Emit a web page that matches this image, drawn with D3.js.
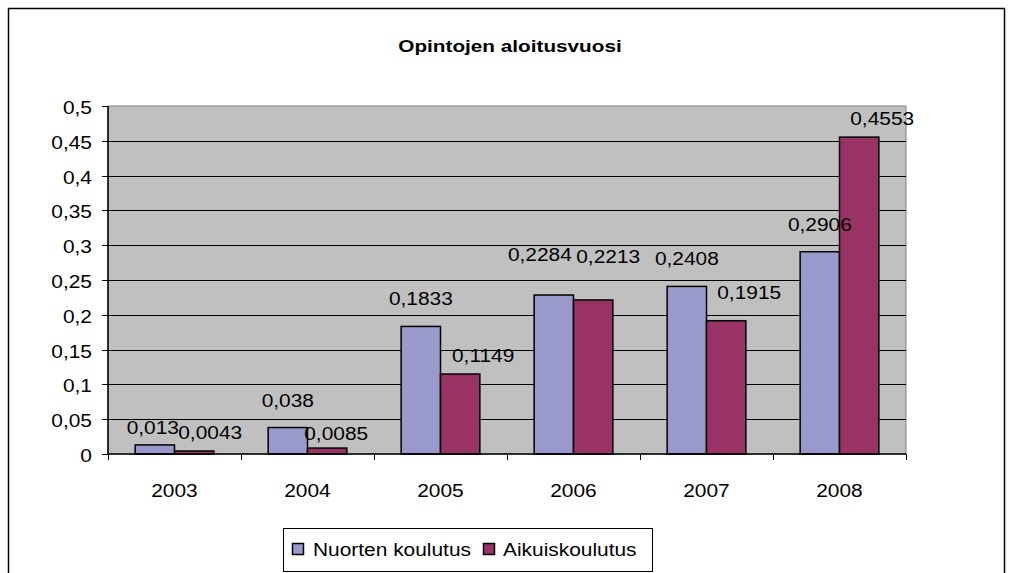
<!DOCTYPE html>
<html>
<head>
<meta charset="utf-8">
<script src="https://cdn.jsdelivr.net/npm/d3@7"></script>
<style>
  html, body { margin: 0; padding: 0; background: #fff; }
  svg { display: block; font-family: "Liberation Sans", Arial, sans-serif; }
</style>
</head>
<body>
<svg id="chart" width="1009" height="573"></svg>
<script>
// chart data
const years = ['2003', '2004', '2005', '2006', '2007', '2008'];
const seriesNames = ['Nuorten koulutus', 'Aikuiskoulutus'];
const nuorten = [0.013, 0.038, 0.1833, 0.2284, 0.2408, 0.2906];
const aikuis = [0.0043, 0.0085, 0.1149, 0.2213, 0.1915, 0.4553];
const yTicks = [0, 0.05, 0.1, 0.15, 0.2, 0.25, 0.3, 0.35, 0.4, 0.45, 0.5];
const colors = ['#9999CC', '#993366'];

// label nudges (dx, dy) to mimic the original label placement
const labelNudge = [
  [[-2, 10], [0, 0], [0, 0], [-14, -13], [0, 0], [0, 0]],
  [[16, 9], [9, 13], [23, 9], [15, -16], [23, -1], [23, 9]]
];

const svg = d3.select('#chart');
const plot = { left: 108, top: 106, right: 906, bottom: 454 };
const SX = 1.1; // text is stretched horizontally in the original

function stretchedText(g, x, y, str, opts) {
  opts = opts || {};
  return g.append('text')
    .attr('transform', `translate(${x},${y}) scale(${opts.sx || SX},1)`)
    .attr('text-anchor', opts.anchor || 'middle')
    .attr('font-size', opts.size || 19)
    .attr('font-weight', opts.weight || 'normal')
    .attr('fill', '#000')
    .text(str);
}
const fmt = v => String(v).replace('.', ',');

// outer frame
svg.append('rect')
  .attr('x', 8.5).attr('y', 8.5)
  .attr('width', 996).attr('height', 600)
  .attr('fill', 'none').attr('stroke', '#000').attr('stroke-width', 1.5);

// title
stretchedText(svg, 510, 52, 'Opintojen aloitusvuosi', { size: 17, weight: 'bold', sx: 1.22 });

const x0 = d3.scaleBand().domain(years).range([plot.left, plot.right]).padding(0);
const x1 = d3.scaleBand().domain([0, 1]).range([0, x0.bandwidth()]).paddingInner(0).paddingOuter(0.69);
const y = d3.scaleLinear().domain([0, 0.5]).range([plot.bottom, plot.top]);

// plot area background
svg.append('rect')
  .attr('x', plot.left).attr('y', plot.top)
  .attr('width', plot.right - plot.left).attr('height', plot.bottom - plot.top)
  .attr('fill', '#C0C0C0').attr('stroke', '#808080').attr('stroke-width', 1);

// gridlines
svg.append('g').selectAll('line')
  .data(yTicks.filter(t => t > 0 && t < 0.5))
  .join('line')
  .attr('x1', plot.left).attr('x2', plot.right)
  .attr('y1', d => Math.round(y(d)) + 0.5).attr('y2', d => Math.round(y(d)) + 0.5)
  .attr('stroke', '#000').attr('stroke-width', 1);

// bars
const series = [nuorten, aikuis];
const barG = svg.append('g');
series.forEach((vals, si) => {
  barG.selectAll('rect.s' + si)
    .data(vals)
    .join('rect')
    .attr('class', 's' + si)
    .attr('x', (d, i) => x0(years[i]) + x1(si))
    .attr('y', d => y(d))
    .attr('width', x1.bandwidth())
    .attr('height', d => y(0) - y(d))
    .attr('fill', colors[si])
    .attr('stroke', '#000').attr('stroke-width', 1.5);
});

// data labels
const labelG = svg.append('g');
series.forEach((vals, si) => {
  vals.forEach((v, i) => {
    const cx = x0(years[i]) + x1(si) + x1.bandwidth() / 2 + labelNudge[si][i][0];
    const by = y(v) - 21 + labelNudge[si][i][1];
    stretchedText(labelG, cx, by, fmt(v));
  });
});

// y axis
const yAxis = svg.append('g');
yAxis.append('line')
  .attr('x1', plot.left).attr('x2', plot.left)
  .attr('y1', plot.top).attr('y2', plot.bottom)
  .attr('stroke', '#000').attr('stroke-width', 1.5);
yTicks.forEach(t => {
  const ty = Math.round(y(t)) + 0.5;
  yAxis.append('line')
    .attr('x1', plot.left - 6).attr('x2', plot.left)
    .attr('y1', ty).attr('y2', ty)
    .attr('stroke', '#000');
  stretchedText(yAxis, 92, ty + 7, fmt(t), { anchor: 'end' });
});

// x axis
const xAxis = svg.append('g');
xAxis.append('line')
  .attr('x1', plot.left).attr('x2', plot.right)
  .attr('y1', plot.bottom).attr('y2', plot.bottom)
  .attr('stroke', '#000').attr('stroke-width', 1.5);
years.concat(['end']).forEach((yr, i) => {
  const tx = Math.round(plot.left + i * x0.step()) + 0.5;
  xAxis.append('line')
    .attr('x1', tx).attr('x2', tx)
    .attr('y1', plot.bottom).attr('y2', plot.bottom + 6)
    .attr('stroke', '#000');
});
years.forEach(yr => {
  stretchedText(xAxis, x0(yr) + x0.bandwidth() / 2, 497, yr);
});

// legend
const legend = svg.append('g');
legend.append('rect')
  .attr('x', 283.5).attr('y', 528.5).attr('width', 369).attr('height', 43)
  .attr('fill', '#fff').attr('stroke', '#000').attr('stroke-width', 1);
const legendItems = [{ sx: 292, tx: 313 }, { sx: 483, tx: 503 }];
seriesNames.forEach((name, si) => {
  legend.append('rect')
    .attr('x', legendItems[si].sx + 0.5).attr('y', 543.5)
    .attr('width', 11).attr('height', 11)
    .attr('fill', colors[si]).attr('stroke', '#000').attr('stroke-width', 1.5);
  stretchedText(legend, legendItems[si].tx, 556, name, { anchor: 'start' });
});
</script>
</body>
</html>
